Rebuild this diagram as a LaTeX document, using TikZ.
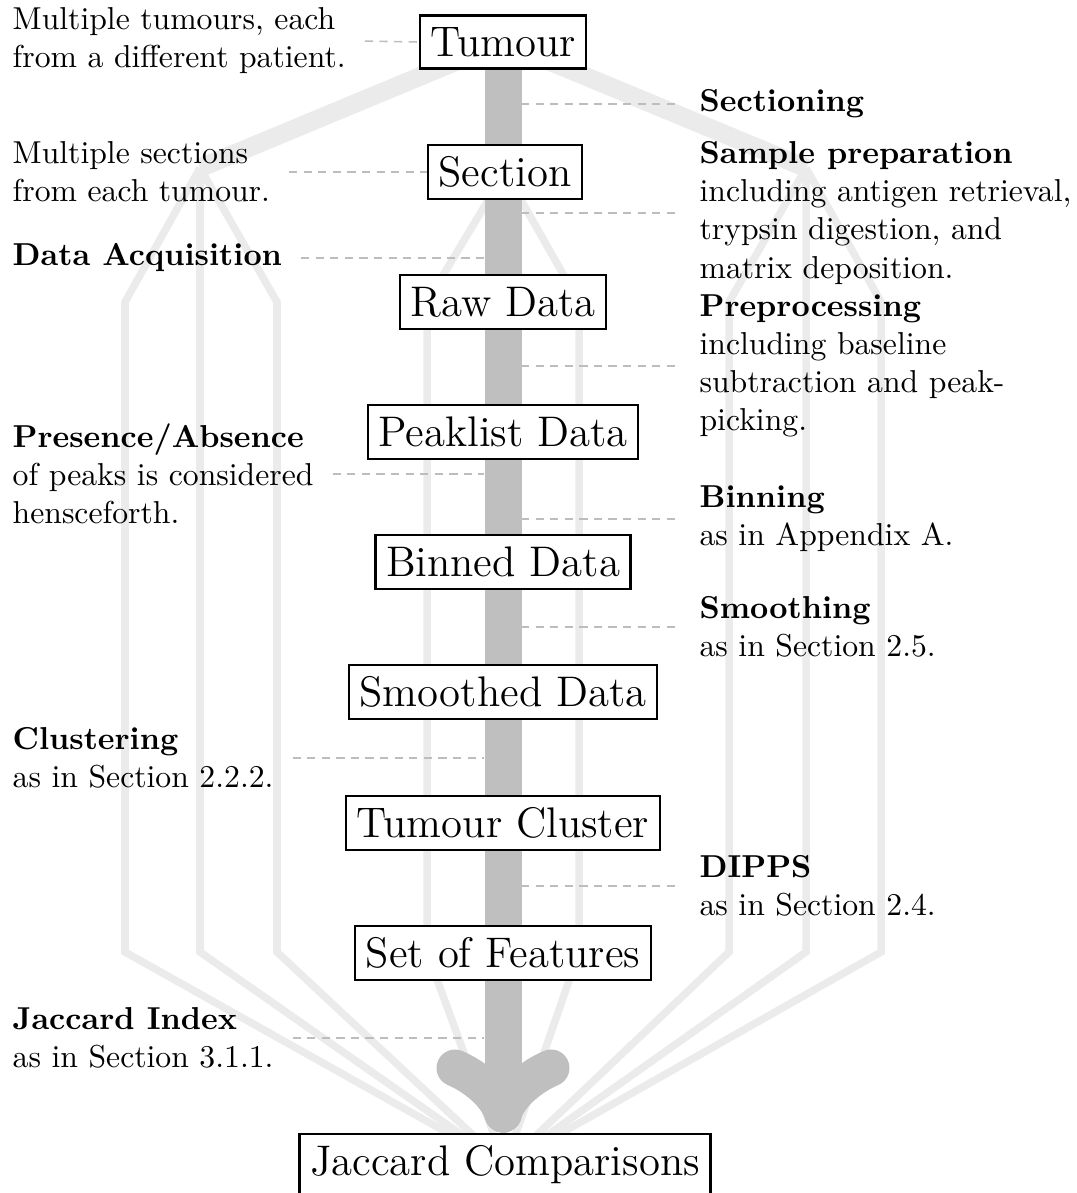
\documentclass[tikz,border=0pt]{standalone}
\usetikzlibrary{backgrounds}
\definecolor{darkg}{HTML}{BFBFBF}
\definecolor{lightg}{HTML}{EBEBEB}
\definecolor{dashg}{HTML}{BDBDBD}
\begin{document}
\begin{tikzpicture}[x=0.3155pt,y=-0.3155pt,
  stage/.style={draw, line width=0.7pt, fill=white, font=\fontsize{13.5}{16}\selectfont, inner xsep=3.33pt, inner ysep=3.7pt},
  txt/.style={align=left, anchor=west, inner sep=3.33pt},
  lite/.style={draw=lightg, line width=2.37pt},
  guide/.style={draw=dashg, line width=0.5pt, dash pattern=on 2.6pt off 2pt},
  shaft/.style={draw=darkg, line width=11.67pt, line cap=round}]
\useasboundingbox (0,0) rectangle (1076,1193);

% stages
\node[stage] (tumour)   at (503,42)  {Tumour};
\node[stage] (section)  at (505,172) {Section};
\node[stage] (raw)      at (503,302) {Raw Data};
\node[stage] (peak)     at (503,432) {Peaklist Data};
\node[stage] (binned)   at (503,562) {Binned Data};
\node[stage] (smoothed) at (503,692) {Smoothed Data};
\node[stage] (cluster)  at (503,823) {Tumour Cluster};
\node[stage] (features) at (503,953) {Set of Features};
\node[stage, anchor=north] (jac) at (505,1133) {Jaccard Comparisons};

% left notes
\node[txt] (tumnote) at (1.5,41)   {Multiple tumours, each\\from a different patient.};
\node[txt] (secnote) at (1.5,172)  {Multiple sections\\from each tumour.};
\node[txt] (acq)     at (1.5,258)  {\textbf{Data Acquisition}};
\node[txt] (pres)    at (1.5,474)  {\textbf{Presence/Absence}\\of peaks is considered\\hensceforth.};
\node[txt] (clus)    at (1.5,758)  {\textbf{Clustering}\\as in Section 2.2.2.};
\node[txt] (jidx)    at (1.5,1038) {\textbf{Jaccard Index}\\as in Section 3.1.1.};

% right notes
\node[txt] (sect)    at (688.4,104) {\textbf{Sectioning}};
\node[txt] (prep)    at (688.4,213) {\textbf{Sample preparation}\\including antigen retrieval,\\trypsin digestion, and\\matrix deposition.};
\node[txt] (prepro)  at (688.4,366) {\textbf{Preprocessing}\\including baseline\\subtraction and peak-\\picking.};
\node[txt] (binning) at (688.4,519) {\textbf{Binning}\\as in Appendix A.};
\node[txt] (smooth)  at (688.4,627) {\textbf{Smoothing}\\as in Section 2.5.};
\node[txt] (dipps)   at (688.4,886) {\textbf{DIPPS}\\as in Section 2.4.};

\coordinate (L) at (200,168);
\coordinate (R) at (806,168);
\coordinate (sl) at (484,0);
\coordinate (sr) at (521,0);
\coordinate (tip) at (503,1114);
\coordinate (armL) at (455,1068);
\coordinate (armR) at (551,1068);

\begin{scope}[on background layer]
  % light process lines
  \draw[lite, line width=5.85pt] (tumour.center) -- (L);
  \draw[lite, line width=5.85pt] (tumour.center) -- (R);
  \foreach \x in {125,200,277} \draw[lite] (L) -- (\x,302) -- (\x,952) -- (jac.center);
  \foreach \x in {729,806,881} \draw[lite] (R) -- (\x,302) -- (\x,952) -- (jac.center);
  \foreach \x in {427,503,579} \draw[lite] (section.center) -- (\x,302) -- (\x,952) -- (jac.center);

  % dashed guides
  \draw[guide, shorten <=2.5pt] (tumnote.east) -- (tumour.west);
  \draw[guide, shorten <=2.5pt] (secnote.east) -- (section.west);
  \foreach \n in {acq,pres,clus,jidx}
    \draw[guide, shorten <=2.5pt] (\n.east) -- (\n.east -| sl);
  \foreach \n in {sect,prep,prepro,binning,smooth,dipps}
    \draw[guide, shorten >=2.5pt] (\n.west -| sr) -- (\n.west);

  % main arrow
  \draw[shaft] (tumour.south) -- (tip);
  \draw[shaft] (armL) .. controls (474,1076) and (497,1094) .. (tip);
  \draw[shaft] (armR) .. controls (532,1076) and (509,1094) .. (tip);
\end{scope}
\end{tikzpicture}
\end{document}
